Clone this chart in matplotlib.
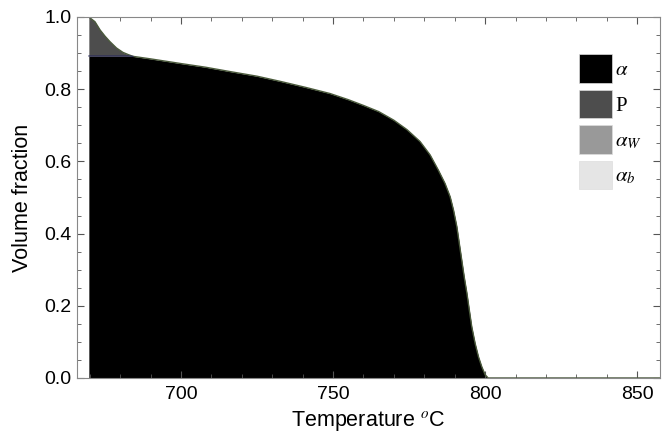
import matplotlib
matplotlib.use("Agg")
import matplotlib.pyplot as plt
import numpy as np
from matplotlib.patches import Patch
from matplotlib.ticker import MultipleLocator

# Data
temperature = [669.7, 671.7, 673.4, 675.0, 676.6, 678.8, 680.9, 682.6, 684.2, 690, 700, 708, 716, 725,
               733, 741, 749, 755, 760, 765, 770, 774.3, 778.6, 781.9, 784.6, 786.8, 788.5, 789.6,
               790.7, 791.5, 792.3, 793.1, 794.0, 794.8, 795.6, 796.7, 797.8, 798.9, 800.0, 801.0,
               805, 860]
alpha = [0.892, 0.892, 0.892, 0.892, 0.892, 0.892, 0.892, 0.892, 0.891, 0.884, 0.871, 0.861, 0.849, 0.836,
         0.821, 0.805, 0.788, 0.771, 0.755, 0.738, 0.714, 0.688, 0.655, 0.618, 0.576, 0.539, 0.502, 0.465,
         0.419, 0.373, 0.327, 0.281, 0.235, 0.188, 0.142, 0.096, 0.059, 0.031, 0.009, 0.0,
         0.0, 0.0]
pearlite = [0.108, 0.095, 0.072, 0.055, 0.040, 0.022, 0.010, 0.004, 0.0, 0.0, 0.0, 0.0, 0.0, 0.0,
            0.0, 0.0, 0.0, 0.0, 0.0, 0.0, 0.0, 0.0, 0.0, 0.0, 0.0, 0.0, 0.0, 0.0,
            0.0, 0.0, 0.0, 0.0, 0.0, 0.0, 0.0, 0.0, 0.0, 0.0, 0.0, 0.0,
            0.0, 0.0]
alpha_w = [0.0] * len(temperature)
alpha_b = [0.0] * len(temperature)

labels = [r"$\alpha$", "P", r"$\alpha_W$", r"$\alpha_b$"]
colors = ["#000000", "#4d4d4d", "#999999", "#e5e5e5"]

plt.rcParams["font.family"] = ["Liberation Sans", "DejaVu Sans"]
plt.rcParams["mathtext.fontset"] = "stix"

fig = plt.figure(figsize=(6.62, 4.45), dpi=100)
ax = fig.add_axes([0.1163, 0.1506, 0.8807, 0.8112])

T = np.array(temperature)
a = np.array(alpha)
p = np.array(pearlite)
w = np.array(alpha_w)
b = np.array(alpha_b)

ax.fill_between(T, 0, a, color=colors[0], linewidth=0)
ax.fill_between(T, a, a + p, color=colors[1], linewidth=0)
ax.fill_between(T, a + p, a + p + w, color=colors[2], linewidth=0)
ax.fill_between(T, a + p + w, a + p + w + b, color=colors[3], linewidth=0)
ax.plot(T, a + p + w + b, color="#4b5a3c", linewidth=1.0)
ax.plot(T[:9], a[:9], color="#2a2a5a", linewidth=0.8)

ax.set_xlim(665.8, 857.5)
ax.set_ylim(0, 1.0)
ax.xaxis.set_major_locator(MultipleLocator(50))
ax.xaxis.set_minor_locator(MultipleLocator(10))
ax.yaxis.set_major_locator(MultipleLocator(0.2))
ax.yaxis.set_minor_locator(MultipleLocator(0.05))
ax.yaxis.set_major_formatter(matplotlib.ticker.FormatStrFormatter("%.1f"))
ax.tick_params(which="both", direction="in", top=True, right=True, color="#555555",
               labelsize=14, labelcolor="black")
ax.tick_params(which="major", length=5, width=0.8)
ax.tick_params(which="minor", length=3, width=0.6)
ax.tick_params(axis="x", pad=6)
ax.tick_params(axis="y", pad=4)
for s in ax.spines.values():
    s.set_color("#888888")
    s.set_linewidth(0.8)

ax.set_xlabel(r"Temperature $^{o}$C", fontsize=15.5, labelpad=4)
ax.set_ylabel("Volume fraction", fontsize=15.5, labelpad=8)

fs_px = 15 * 100 / 72.0
handles = [Patch(facecolor=c, edgecolor="#dddddd", linewidth=0.5) for c in colors]
leg = ax.legend(handles, labels, loc="upper left", bbox_to_anchor=(0.861, 0.8975),
                frameon=False, handlelength=33 / fs_px, handleheight=36 / fs_px,
                handletextpad=0.15, labelspacing=7 / fs_px, borderaxespad=0, borderpad=0,
                prop={"family": "Liberation Serif", "size": 15})

fig.savefig("out.png", dpi=100)
